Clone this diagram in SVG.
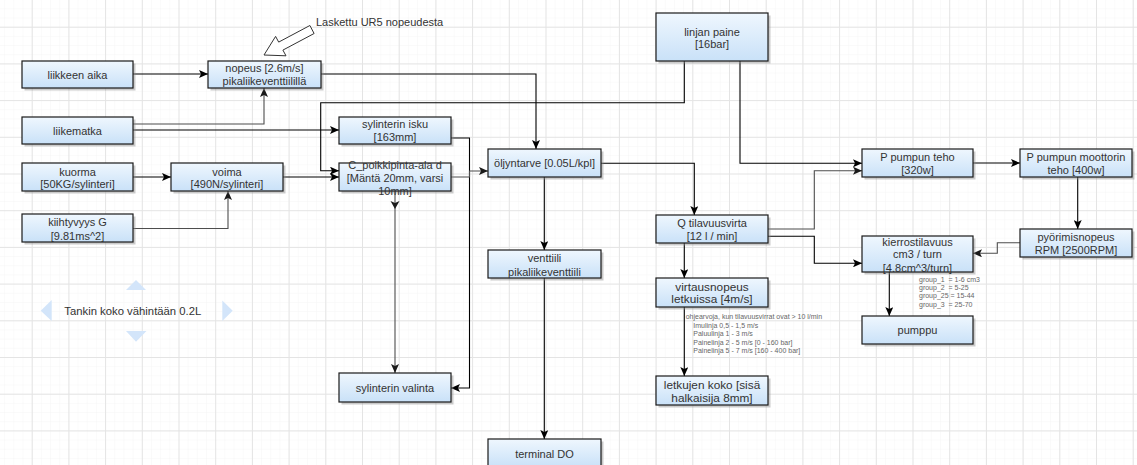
<svg xmlns="http://www.w3.org/2000/svg" width="1137" height="465" viewBox="0 0 1137 465">
<style>
.t{font-family:"Liberation Sans",Arial,sans-serif;font-size:11px;fill:#333;text-anchor:middle;dominant-baseline:central}
.b{fill:url(#gr);stroke:#1a1a1a;stroke-width:1.2}
.s{fill:#8c8c8c;opacity:0.45}
.k{fill:none;stroke:#000;stroke-width:1.1;marker-end:url(#ak)}
.g{fill:none;stroke:#4d4d4d;stroke-width:1.1;marker-end:url(#ag)}
.n{font-family:"Liberation Sans",Arial,sans-serif;font-size:7px;fill:#666;white-space:pre}
.tri{fill:#d3e5fa}
</style>
<defs>
<linearGradient id="gr" x1="0" y1="0" x2="0" y2="1">
<stop offset="0" stop-color="#eff7fe"/>
<stop offset="1" stop-color="#c9e1f8"/>
</linearGradient>
<pattern id="minor" width="9.175" height="9.175" patternUnits="userSpaceOnUse" x="31.7" y="26.7">
<path d="M0,0 H9.175 M0,0 V9.175" fill="none" stroke="#f5f5f5" stroke-width="1"/>
</pattern>
<pattern id="major" width="36.7" height="36.7" patternUnits="userSpaceOnUse" x="31.7" y="26.7">
<path d="M0,0.5 H36.7 M0.5,0 V36.7" fill="none" stroke="#e4e4e4" stroke-width="1"/>
</pattern>
<marker id="ak" viewBox="0 0 9 8" refX="9" refY="4" markerWidth="9" markerHeight="8" markerUnits="userSpaceOnUse" orient="auto">
<path d="M0,0 L9,4 L0,8 L2,4 z" fill="#000"/>
</marker>
<marker id="ag" viewBox="0 0 9 8" refX="9" refY="4" markerWidth="9" markerHeight="8" markerUnits="userSpaceOnUse" orient="auto">
<path d="M0,0 L9,4 L0,8 L2,4 z" fill="#1a1a1a"/>
</marker>
</defs>
<rect width="1137" height="465" fill="#fff"/>
<rect width="1137" height="465" fill="url(#minor)"/>
<rect width="1137" height="465" fill="url(#major)"/>

<g id="connectors">
<path class="k" d="M133,74 H208"/>
<path class="g" d="M133,124 H264 V88"/>
<path class="k" d="M133,130 H339"/>
<path class="k" d="M321,74 H536 V149"/>
<path class="k" d="M684.3,61 V102.7 H320.7 V170.7 H339"/>
<path class="k" d="M283,177 H339"/>
<path class="k" d="M133,177 H171"/>
<path class="g" d="M133,228.5 H228 V191"/>
<path class="k" d="M451,138 H469.5 V388 H451"/>
<path class="g" d="M451,177 H469.5 V171 H488"/>
<path class="g" d="M395,191 V373"/>
<path d="M390.5,201 L395,209 L399.5,201 L395,203 z" fill="#1a1a1a"/>
<path class="k" d="M544.3,177 V250"/>
<path class="k" d="M544.3,278 V439"/>
<path class="k" d="M601,163.3 H694.3 V215"/>
<path class="k" d="M740,61 V163.3 H862"/>
<path class="g" d="M768,229 H814.3 V170.7 H862"/>
<path class="k" d="M768,236.3 H814.3 V263.3 H862"/>
<path class="k" d="M973,163 H1020"/>
<path class="k" d="M1077.7,177 V229"/>
<path class="g" d="M1020,242.7 H997.3 V253.3 H973"/>
<path class="k" d="M889.3,272 V316"/>
<path class="k" d="M684.3,243 V278"/>
<path class="k" d="M684.3,307 V376"/>
</g>

<g id="n-liikkeen-aika"><rect class="s" x="24.5" y="63.5" width="111" height="27"/><rect class="b" x="22" y="61" width="111" height="27"/><text class="t" x="77.5" y="74.5">liikkeen aika</text></g>
<g id="n-nopeus"><rect class="s" x="210.5" y="63.5" width="113" height="27"/><rect class="b" x="208" y="61" width="113" height="27"/><text class="t" x="264.5" y="68.3">nopeus [2.6m/s]</text><text class="t" x="264.5" y="81">pikaliikeventtiilillä</text></g>
<g id="n-liikematka"><rect class="s" x="24.5" y="119.5" width="111" height="27"/><rect class="b" x="22" y="117" width="111" height="27"/><text class="t" x="77.5" y="130.5">liikematka</text></g>
<g id="n-kuorma"><rect class="s" x="24.5" y="165.5" width="111" height="28"/><rect class="b" x="22" y="163" width="111" height="28"/><text class="t" x="77.5" y="171.7">kuorma</text><text class="t" x="77.5" y="184.3">[50KG/sylinteri]</text></g>
<g id="n-voima"><rect class="s" x="173.5" y="165.5" width="112" height="28"/><rect class="b" x="171" y="163" width="112" height="28"/><text class="t" x="227" y="171.7">voima</text><text class="t" x="227" y="184.3">[490N/sylinteri]</text></g>
<g id="n-kiihtyvyys"><rect class="s" x="24.5" y="216.5" width="111" height="28"/><rect class="b" x="22" y="214" width="111" height="28"/><text class="t" x="77.5" y="222.3">kiihtyvyys G</text><text class="t" x="77.5" y="236">[9.81ms^2]</text></g>
<g id="n-sylinterin-isku"><rect class="s" x="341.5" y="119.5" width="112" height="27"/><rect class="b" x="339" y="117" width="112" height="27"/><text class="t" x="395" y="124.3">sylinterin isku</text><text class="t" x="395" y="137.3">[163mm]</text></g>
<g id="n-poikkipinta"><rect class="s" x="341.5" y="165.5" width="112" height="28"/><rect class="b" x="339" y="163" width="112" height="28"/><text class="t" x="395" y="165">C_poikkipinta-ala d</text><text class="t" x="395" y="177.7">[Mäntä 20mm, varsi</text><text class="t" x="395" y="191">10mm]</text></g>
<g id="n-oljyntarve"><rect class="s" x="490.5" y="151.5" width="113" height="28"/><rect class="b" x="488" y="149" width="113" height="28"/><text class="t" x="544.5" y="163.3">öljyntarve [0.05L/kpl]</text></g>
<g id="n-venttiili"><rect class="s" x="490.5" y="252.5" width="113" height="28"/><rect class="b" x="488" y="250" width="113" height="28"/><text class="t" x="544.5" y="258.3">venttiili</text><text class="t" x="544.5" y="271.7">pikaliikeventtiili</text></g>
<g id="n-linjan-paine"><rect class="s" x="658.5" y="15.5" width="112" height="48"/><rect class="b" x="656" y="13" width="112" height="48"/><text class="t" x="712" y="31.7">linjan paine</text><text class="t" x="712" y="44.3">[16bar]</text></g>
<g id="n-p-teho"><rect class="s" x="864.5" y="151.5" width="111" height="28"/><rect class="b" x="862" y="149" width="111" height="28"/><text class="t" x="917.5" y="156.7">P pumpun teho</text><text class="t" x="917.5" y="170">[320w]</text></g>
<g id="n-p-moottori"><rect class="s" x="1022.5" y="151.5" width="112" height="28"/><rect class="b" x="1020" y="149" width="112" height="28"/><text class="t" x="1076" y="156.7">P pumpun moottorin</text><text class="t" x="1076" y="170">teho [400w]</text></g>
<g id="n-q"><rect class="s" x="658.5" y="217.5" width="112" height="28"/><rect class="b" x="656" y="215" width="112" height="28"/><text class="t" x="712" y="222.7">Q tilavuusvirta</text><text class="t" x="712" y="236">[12 l / min]</text></g>
<g id="n-pyorimisnopeus"><rect class="s" x="1022.5" y="231.5" width="112" height="28"/><rect class="b" x="1020" y="229" width="112" height="28"/><text class="t" x="1076" y="236.7">pyörimisnopeus</text><text class="t" x="1076" y="250">RPM [2500RPM]</text></g>
<g id="n-kierrostilavuus"><rect class="s" x="864.5" y="238.5" width="111" height="36"/><rect class="b" x="862" y="236" width="111" height="36"/><text class="t" x="917.5" y="241.7">kierrostilavuus</text><text class="t" x="917.5" y="254.3">cm3 / turn</text><text class="t" x="917.5" y="267.7">[4.8cm^3/turn]</text></g>
<g id="n-pumppu"><rect class="s" x="864.5" y="318.5" width="111" height="28"/><rect class="b" x="862" y="316" width="111" height="28"/><text class="t" x="917.5" y="330">pumppu</text></g>
<g id="n-virtausnopeus"><rect class="s" x="658.5" y="280.5" width="112" height="29"/><rect class="b" x="656" y="278" width="112" height="29"/><text class="t" x="712" y="286.7" style="font-size:11.8px">virtausnopeus</text><text class="t" x="712" y="299.3" style="font-size:11.8px">letkuissa [4m/s]</text></g>
<g id="n-letkujen"><rect class="s" x="658.5" y="378.5" width="112" height="29"/><rect class="b" x="656" y="376" width="112" height="29"/><text class="t" x="712" y="384.5" style="font-size:11.8px">letkujen koko [sisä</text><text class="t" x="712" y="397.5" style="font-size:11.8px">halkaisija 8mm]</text></g>
<g id="n-sylinterin-valinta"><rect class="s" x="341.5" y="375.5" width="112" height="29"/><rect class="b" x="339" y="373" width="112" height="29"/><text class="t" x="395" y="387.5">sylinterin valinta</text></g>
<g id="n-terminal"><rect class="s" x="490.5" y="441.5" width="113" height="28"/><rect class="b" x="488" y="439" width="113" height="28"/><text class="t" x="544.5" y="453.5">terminal DO</text></g>

<g id="annotation-ur5">
<polygon points="309.9,25.5 278.7,42.1 275.6,36.4 264,55 286,55.8 282.9,50.1 314.1,33.5" fill="#fff" stroke="#333" stroke-width="1"/>
<text x="316" y="26" style="font-family:'Liberation Sans',Arial,sans-serif;font-size:11px;fill:#333">Laskettu UR5 nopeudesta</text>
</g>

<g id="note-virtaus">
<text class="n" x="685.7" y="319">ohjearvoja, kun tilavuusvirrat ovat &gt; 10 l/min</text>
<text class="n" x="693.3" y="327.5">Imulinja 0,5 - 1,5 m/s</text>
<text class="n" x="693.3" y="336">Paluulinja 1 - 3 m/s</text>
<text class="n" x="693.3" y="344.5">Painelinja 2 - 5 m/s [0 - 160 bar]</text>
<text class="n" x="693.3" y="353">Painelinja 5 - 7 m/s [160 - 400 bar]</text>
</g>

<g id="note-group">
<text class="n" x="919" y="281.6" xml:space="preserve">group_1  = 1-6 cm3</text>
<text class="n" x="919" y="290" xml:space="preserve">group_2  = 5-25</text>
<text class="n" x="919" y="298.3" xml:space="preserve">group_25 = 15-44</text>
<text class="n" x="919" y="306.6" xml:space="preserve">group_3  = 25-70</text>
</g>

<g id="tank">
<polygon class="tri" points="40.7,310.7 51.7,300 51.7,321"/>
<polygon class="tri" points="232.7,310.7 222.3,300.5 222.3,321"/>
<polygon class="tri" points="136,280 126,290 146,290"/>
<polygon class="tri" points="136,341.7 126,331 146.5,331"/>
<text class="t" x="132.8" y="310.7" style="font-size:11.3px">Tankin koko vähintään 0.2L</text>
</g>
</svg>
